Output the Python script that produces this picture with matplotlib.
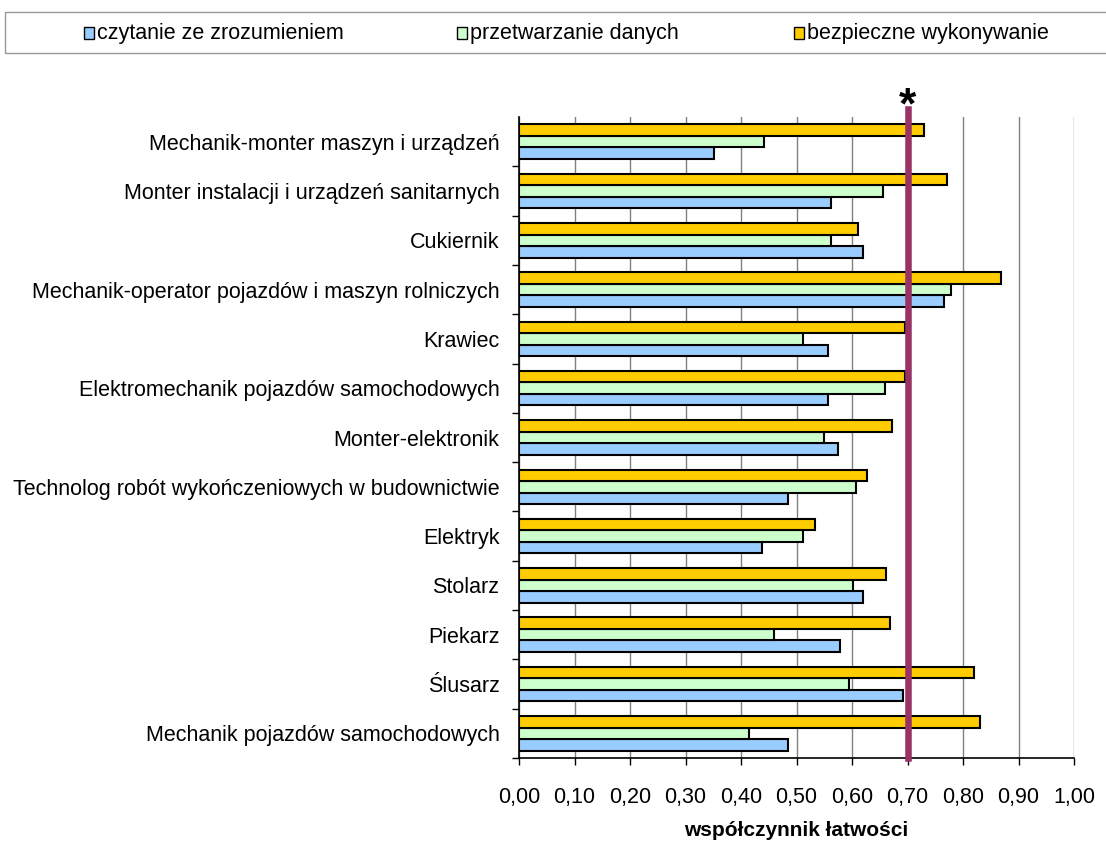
import matplotlib.pyplot as plt
from matplotlib.patches import Rectangle
from matplotlib.ticker import FixedLocator
import numpy as np

plt.rcParams['font.family'] = ['Liberation Sans', 'DejaVu Sans']

# categories top to bottom
zawody = ['Mechanik-monter maszyn i urządzeń',
          'Monter instalacji i urządzeń sanitarnych',
          'Cukiernik',
          'Mechanik-operator pojazdów i maszyn rolniczych',
          'Krawiec',
          'Elektromechanik pojazdów samochodowych',
          'Monter-elektronik',
          'Technolog robót wykończeniowych w budownictwie',
          'Elektryk',
          'Stolarz',
          'Piekarz',
          'Ślusarz',
          'Mechanik pojazdów samochodowych']

czytanie = [0.351, 0.563, 0.620, 0.765, 0.556, 0.556, 0.575, 0.485, 0.437, 0.620, 0.579, 0.692, 0.485]
przetwarzanie = [0.441, 0.656, 0.563, 0.778, 0.511, 0.659, 0.550, 0.608, 0.511, 0.601, 0.459, 0.594, 0.414]
bezpieczne = [0.730, 0.772, 0.611, 0.868, 0.695, 0.695, 0.672, 0.627, 0.534, 0.662, 0.669, 0.819, 0.830]

serie = ['czytanie ze zrozumieniem', 'przetwarzanie danych', 'bezpieczne wykonywanie']
kolory = ['#99CCFF', '#CCFFCC', '#FFCC00']
prog = 0.70
xticks = [0.0, 0.1, 0.2, 0.3, 0.4, 0.5, 0.6, 0.7, 0.8, 0.9, 1.0]
xlabels = ['0,00', '0,10', '0,20', '0,30', '0,40', '0,50', '0,60', '0,70', '0,80', '0,90', '1,00']

fs = 15.5
fig = plt.figure(figsize=(11.06, 8.43), dpi=100)
ax = fig.add_axes([519/1106, 1 - 758/843, (1074-519)/1106, (758-117)/843])

n = len(zawody)
y = np.arange(n)[::-1]
h = 0.233
ax.barh(y - h, czytanie, height=h, color=kolory[0], edgecolor='black', linewidth=1.5, zorder=3)
ax.barh(y, przetwarzanie, height=h, color=kolory[1], edgecolor='black', linewidth=1.5, zorder=3)
ax.barh(y + h, bezpieczne, height=h, color=kolory[2], edgecolor='black', linewidth=1.5, zorder=3)

ax.set_xlim(0, 1.0)
ax.set_ylim(-0.5, n - 0.5)
ax.set_xticks(xticks)
ax.set_xticklabels(xlabels, fontsize=fs)
ax.set_yticks(y)
ax.set_yticklabels(zawody, fontsize=fs)
ax.yaxis.set_minor_locator(FixedLocator(np.arange(n) - 0.5))
ax.tick_params(axis='y', which='major', length=0, pad=14)
ax.tick_params(axis='y', which='minor', length=5, width=1, direction='out')
ax.tick_params(axis='x', length=5, width=1, direction='out', pad=16)
ax.xaxis.grid(True, color='#808080', linewidth=1, zorder=0)
ax.set_axisbelow(True)
for s in ['top', 'right']:
    ax.spines[s].set_visible(False)
ax.spines['left'].set_linewidth(1.2)
ax.spines['bottom'].set_linewidth(1.2)
ax.set_xlabel('współczynnik łatwości', fontsize=15, fontweight='bold', labelpad=9)

# threshold line
ax.axvline(prog, ymin=0, ymax=1 + 8/641, color='#993366', linewidth=4.7, zorder=5, clip_on=False)
ax.text(prog, 0.983, '*', transform=ax.get_xaxis_transform(), ha='center', va='bottom',
        fontsize=32, fontweight='bold', zorder=6)

# legend box
fig.add_artist(Rectangle((5/1106, 1 - 53/843), 1.2, 41/843, transform=fig.transFigure,
                         facecolor='white', edgecolor='#999999', linewidth=1))
leg_x = [84, 457, 794]
for xi, lab, kol in zip(leg_x, serie, kolory):
    fig.add_artist(Rectangle((xi/1106, 1 - 39/843), 10/1106, 12/843, transform=fig.transFigure,
                             facecolor=kol, edgecolor='black', linewidth=1))
    fig.text((xi + 13)/1106, 1 - 34/843, lab, fontsize=fs, va='center', ha='left')

plt.savefig('out.png', dpi=100)
